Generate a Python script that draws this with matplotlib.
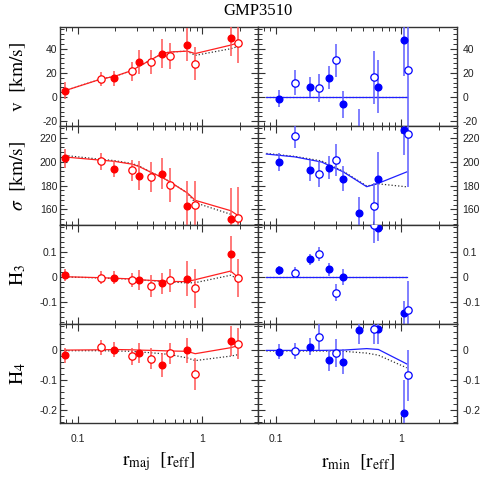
# -- coding: utf-8 --

import numpy as np
import matplotlib
matplotlib.use('Agg')
import matplotlib.pyplot as plt
from matplotlib.ticker import FixedLocator, FixedFormatter, NullFormatter, MultipleLocator

plt.rcParams['axes.unicode_minus'] = False
plt.rcParams['mathtext.fontset'] = 'stix'
plt.rcParams['font.family'] = 'Liberation Sans'

# === Major axis (red) ===
r_maj = [0.079, 0.155, 0.196, 0.273, 0.311, 0.39, 0.475, 0.552, 0.755, 0.877, 1.69, 1.95]
filled_maj = [1, 0, 1, 0, 1, 0, 1, 0, 1, 0, 1, 0]
v_maj = [5.3, 15, 15.4, 21.3, 28.8, 29, 35.9, 33.9, 43.4, 27.7, 49, 45]
dv_maj = [7, 6, 6, 8, 10, 10, 12, 11, 13.6, 14, 15, 17]
s_maj = [203, 200.4, 194, 192.7, 188.4, 187, 190, 180.6, 163, 164, 152, 153]
ds_maj = [8, 7, 7, 9, 12, 12.5, 13, 14, 21, 20, 26, 26]
h3_maj = [0.007, -0.003, -0.003, -0.011, -0.012, -0.037, -0.025, -0.014, -0.007, -0.046, 0.091, -0.005]
dh3_maj = [0.025, 0.026, 0.026, 0.029, 0.039, 0.044, 0.042, 0.046, 0.071, 0.078, 0.073, 0.077]
h4_maj = [-0.019, 0.007, -0.001, -0.022, -0.011, -0.03, -0.052, -0.013, -0.003, -0.081, 0.03, 0.02]
dh4_maj = [0.025, 0.024, 0.025, 0.028, 0.034, 0.036, 0.039, 0.036, 0.042, 0.054, 0.05, 0.052]

# models along major axis (solid = best fit, dotted = second model)
vmod_maj = [5.3, 15, 17, 22, 25.5, 31, 36, 37.3, 38, 36, 43, 45]
vmod2_maj = [5.3, 15, 17, 22, 25.5, 31, 36, 37.3, 38, 34.5, 40, 42]
smod_maj = [204, 201.3, 200.4, 198, 196, 191, 187, 183, 174, 167.7, 159, 154.7]
smod2_maj = [205.3, 202, 201, 198.5, 196.5, 191, 187, 183, 174, 165.7, 156, 148]
h3mod_maj = [0.001, -0.003, -0.005, -0.008, -0.011, -0.014, -0.016, -0.018, -0.019, -0.011, 0.024, -0.003]
h3mod2_maj = [0.0, -0.004, -0.006, -0.009, -0.012, -0.015, -0.018, -0.02, -0.024, -0.023, 0.007, -0.01]
h4mod_maj = [-0.002, -0.001, 0.0, -0.001, -0.002, -0.003, -0.004, -0.005, -0.006, -0.014, 0.006, 0.013]
h4mod2_maj = [-0.004, -0.004, -0.005, -0.006, -0.008, -0.011, -0.014, -0.017, -0.028, -0.037, -0.022, -0.017]

# === Minor axis (blue) ===
r_min = [0.105, 0.143, 0.187, 0.222, 0.265, 0.302, 0.346, 0.461, 0.605, 0.652, 1.057, 1.14]
filled_min = [1, 0, 1, 0, 1, 0, 1, 1, 0, 1, 1, 0]
v_min = [-1.4, 12, 8.1, 7.3, 16, 30.3, -6.1, -40, 16.2, 8.4, 47.3, 22.7]
dv_min = [7, 10, 8.4, 11.5, 9.5, 14, 11, 30, 21.7, 22, 30, 55]
s_min = [199.8, 221.4, 192.7, 190, 195, 201.3, 185.8, 157, 162.8, 185.8, 226.6, 223.7]
ds_min = [7.5, 10, 9, 11, 9.5, 13.6, 10.5, 13.6, 19, 22, 20.7, 44.5]
h3_min = [0.027, 0.018, 0.071, 0.093, 0.031, -0.064, 0.0, np.nan, 0.208, 0.199, -0.147, -0.132]
dh3_min = [0.019, 0.022, 0.022, 0.03, 0.027, 0.035, 0.032, np.nan, 0.07, 0.055, 0.05, 0.116]
h4_min = [-0.008, -0.004, 0.009, 0.042, -0.036, -0.012, -0.04, 0.064, 0.069, 0.069, -0.211, -0.086]
dh4_min = [0.025, 0.027, 0.028, 0.042, 0.036, 0.046, 0.043, 0.046, 0.05, 0.05, 0.11, 0.086]

rmod_min = [0.084, 0.142, 0.232, 0.346, 0.532, 0.66, 1.11]
vmod_min = [0, 0, 0, 0, 0, 0, 0]
vmod2_min = [0, 0, 0, 0, 0, 0, 0]
smod_min = [206.5, 204.1, 199.8, 191.5, 179.1, 182, 191.5]
smod2_min = [207, 204.5, 200.7, 192, 179.7, 181.5, 179]
h3mod_min = [0, 0, 0, 0, 0, 0, 0]
h3mod2_min = [0, 0, 0, 0, 0, 0, 0]
h4mod_min = [-0.003, -0.003, -0.003, -0.002, 0.003, 0.0, -0.048]
h4mod2_min = [-0.005, -0.005, -0.005, -0.006, -0.012, -0.019, -0.061]

ylims = [(-24, 58), (147, 230), (-0.19, 0.21), (-0.245, 0.085)]
ymajor = [[-20, 0, 20, 40], [160, 180, 200, 220], [-0.1, 0, 0.1], [-0.2, -0.1, 0]]
ylabels_tick = [['-20', '0', '20', '40'], ['160', '180', '200', '220'],
                ['-0.1', '0', '0.1'], ['-0.2', '-0.1', '0']]
yminor = [4, 4, 0.02, 0.02]
ylabels = [r'$\mathrm{v\ \ [km/s]}$', r'$\sigma\ \ \mathrm{[km/s]}$',
           r'$\mathrm{H_3}$', r'$\mathrm{H_4}$']

W = 491.0
fig = plt.figure(figsize=(4.91, 4.91), dpi=100)

x_left, x_mid, x_right = 60 / W, 258 / W, 457 / W
row_top, row_h = 27, 99

data_maj = [(v_maj, dv_maj, vmod_maj, vmod2_maj), (s_maj, ds_maj, smod_maj, smod2_maj),
            (h3_maj, dh3_maj, h3mod_maj, h3mod2_maj), (h4_maj, dh4_maj, h4mod_maj, h4mod2_maj)]
data_min = [(v_min, dv_min, vmod_min, vmod2_min), (s_min, ds_min, smod_min, smod2_min),
            (h3_min, dh3_min, h3mod_min, h3mod2_min), (h4_min, dh4_min, h4mod_min, h4mod2_min)]

frame_col = '#333333'


def draw_points(ax, r, y, dy, filled, col, ecol):
    r = np.array(r)
    y = np.array(y, dtype=float)
    dy = np.array(dy, dtype=float)
    f = np.array(filled) == 1
    ax.errorbar(r, y, yerr=dy, fmt='none', ecolor=ecol, elinewidth=1.1, capsize=0, zorder=3)
    ax.plot(r[f], y[f], 'o', color=col, ms=4.8, zorder=4)
    ax.plot(r[~f], y[~f], 'o', mfc='white', mec=col, mew=0.9, ms=5.3, zorder=4)


for i in range(4):
    bottom = 1 - (row_top + row_h * (i + 1)) / W
    for j in range(2):
        x0, x1 = (x_left, x_mid) if j == 0 else (x_mid, x_right)
        ax = fig.add_axes([x0, bottom, x1 - x0, row_h / W])
        ax.set_xscale('log')
        ax.set_xlim(0.072, 2.8)
        ax.set_ylim(*ylims[i])

        if j == 0:
            y, dy, m1, m2 = data_maj[i]
            ax.plot(r_maj, m2, ':', color='#333333', lw=0.9, zorder=2)
            ax.plot(r_maj, m1, '-', color='#ff2020', lw=0.9, zorder=2)
            draw_points(ax, r_maj, y, dy, filled_maj, '#ff0000', '#ff5555')
        else:
            y, dy, m1, m2 = data_min[i]
            ax.plot(rmod_min, m2, ':', color='#333333', lw=0.9, zorder=2)
            ax.plot(rmod_min, m1, '-', color='#2020ff', lw=0.9, zorder=2)
            draw_points(ax, r_min, y, dy, filled_min, '#0000ff', '#5c5cff')

        ax.xaxis.set_major_locator(FixedLocator([0.1, 1]))
        ax.xaxis.set_minor_locator(FixedLocator([0.08, 0.09, 0.2, 0.3, 0.4, 0.5, 0.6, 0.7, 0.8, 0.9, 2]))
        ax.xaxis.set_minor_formatter(NullFormatter())
        if i == 3:
            ax.xaxis.set_major_formatter(FixedFormatter(['0.1', '1']))
        else:
            ax.xaxis.set_major_formatter(NullFormatter())

        ax.yaxis.set_major_locator(FixedLocator(ymajor[i]))
        ax.yaxis.set_major_formatter(FixedFormatter(ylabels_tick[i]))
        ax.yaxis.set_minor_locator(MultipleLocator(yminor[i]))

        ax.tick_params(which='both', direction='in', top=True, right=True,
                       color=frame_col, labelsize=7.5, labelcolor='#222222')
        ax.tick_params(which='major', length=5, width=0.8)
        ax.tick_params(which='minor', length=3, width=0.7)
        ax.tick_params(axis='x', which='major', pad=8)
        if j == 0:
            ax.tick_params(axis='y', labelleft=True, labelright=False, pad=2)
        else:
            ax.tick_params(axis='y', labelleft=False, labelright=True, pad=4)
        for sp in ax.spines.values():
            sp.set_color(frame_col)
            sp.set_linewidth(1.0)

    # y axis label for the row
    yc = 1 - (row_top + row_h * (i + 0.5)) / W
    fig.text(18 / W, yc, ylabels[i], rotation=90, ha='center', va='center', fontsize=14)

fig.text(258 / W, 1 - 11 / W, 'GMP3510', ha='center', va='center',
         fontsize=12, family='Liberation Serif')
fig.text(159 / W, 1 - 462 / W, r'$\mathrm{r_{maj}\ \ [r_{eff}]}$', ha='center', va='center', fontsize=14)
fig.text(358 / W, 1 - 462 / W, r'$\mathrm{r_{min}\ \ [r_{eff}]}$', ha='center', va='center', fontsize=14)

plt.savefig('out.png', dpi=100)
